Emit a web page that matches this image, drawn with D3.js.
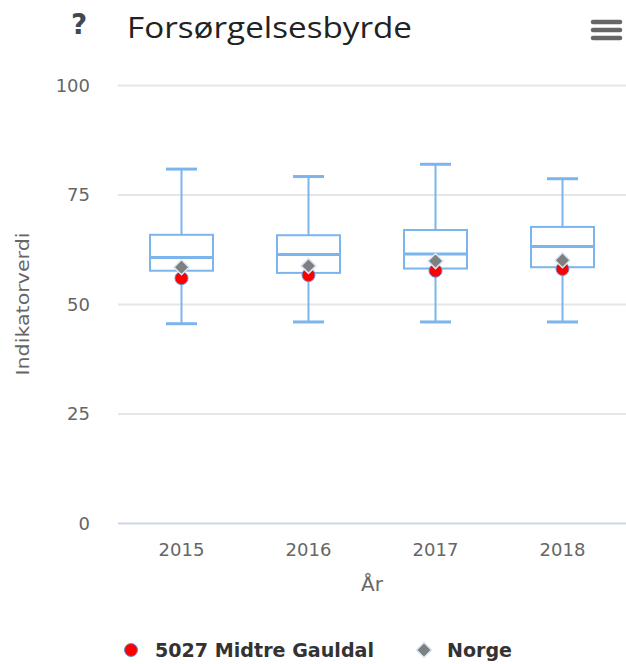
<!DOCTYPE html>
<html>
<head>
<meta charset="utf-8">
<script src="https://cdn.jsdelivr.net/npm/d3@7"></script>
<style>
  html, body { margin: 0; padding: 0; background: #fff; }
  svg { display: block; font-family: "DejaVu Sans", sans-serif; }
</style>
</head>
<body>
<svg id="chart" width="626" height="664"></svg>
<script>
// Years on the x axis
const years = ["2015", "2016", "2017", "2018"];
// Box plot five-number summaries per year
const lowValues    = [45.5, 45.9, 45.9, 45.9];
const q1Values     = [57.6, 57.1, 58.1, 58.4];
const medianValues = [60.6, 61.3, 61.4, 63.1];
const q3Values     = [65.8, 65.7, 66.9, 67.6];
const highValues   = [80.8, 79.1, 81.9, 78.6];
// Municipality and national values
const municipalityValues = [55.9, 56.6, 57.6, 58.0];
const norwayValues       = [58.4, 58.7, 59.8, 60.0];
// Axis ticks
const yTicks = [0, 25, 50, 75, 100];

const municipalityName = "5027 Midtre Gauldal";
const norwayName = "Norge";

const svg = d3.select("#chart");
const margin = { left: 118, right: 0, top: 85, bottom: 141 };
const W = 626, H = 664;

const x = d3.scaleBand().domain(years).range([margin.left, W - margin.right]).padding(0);
const y = d3.scaleLinear().domain([0, 100]).range([H - margin.bottom, margin.top]);

const boxColor = "#7cb5ec";

// Grid lines
svg.append("g").selectAll("line").data(yTicks).join("line")
  .attr("x1", margin.left).attr("x2", W - margin.right)
  .attr("y1", d => y(d) + 0.5).attr("y2", d => y(d) + 0.5)
  .attr("stroke", d => d === 0 ? "#ccd6eb" : "#e6e6e6")
  .attr("stroke-width", 2);

// Y axis labels
const yAxis = d3.axisLeft(y).tickValues(yTicks).tickSize(0).tickPadding(0);
const yg = svg.append("g").attr("transform", `translate(${margin.left - 28},0)`).call(yAxis);
yg.select(".domain").remove();
yg.selectAll("text").attr("font-size", 18).attr("fill", "#666").attr("dy", "0.35em")
  .attr("font-family", "'DejaVu Sans', sans-serif");

// X axis labels
const xAxis = d3.axisBottom(x).tickSize(0).tickPadding(0);
const xg = svg.append("g").attr("transform", `translate(0,${y(0) + 20})`).call(xAxis);
xg.select(".domain").remove();
xg.selectAll("text").attr("font-size", 18).attr("fill", "#666")
  .attr("font-family", "'DejaVu Sans', sans-serif");

// Axis titles
svg.append("text").attr("x", x("2016") + x.bandwidth())
  .attr("y", 591).attr("text-anchor", "middle")
  .attr("font-size", 20).attr("fill", "#666").text("År");
svg.append("text")
  .attr("transform", `translate(29,${y(50)}) rotate(-90)`)
  .attr("text-anchor", "middle").attr("font-size", 18).attr("fill", "#666")
  .attr("textLength", 143).attr("lengthAdjust", "spacingAndGlyphs")
  .text("Indikatorverdi");

// Box plots
const boxes = years.map((yr, i) => ({
  yr, low: lowValues[i], q1: q1Values[i], med: medianValues[i], q3: q3Values[i], high: highValues[i]
}));
const boxW = 63, capW = 31;
const bg = svg.append("g").selectAll("g").data(boxes).join("g")
  .attr("transform", d => `translate(${x(d.yr) + x.bandwidth() / 2},0)`);
// stems
bg.append("line").attr("x1", 0).attr("x2", 0)
  .attr("y1", d => y(d.high)).attr("y2", d => y(d.q3))
  .attr("stroke", boxColor).attr("stroke-width", 2);
bg.append("line").attr("x1", 0).attr("x2", 0)
  .attr("y1", d => y(d.q1)).attr("y2", d => y(d.low))
  .attr("stroke", boxColor).attr("stroke-width", 2);
// caps
bg.append("line").attr("x1", -capW / 2).attr("x2", capW / 2)
  .attr("y1", d => y(d.high)).attr("y2", d => y(d.high))
  .attr("stroke", boxColor).attr("stroke-width", 3);
bg.append("line").attr("x1", -capW / 2).attr("x2", capW / 2)
  .attr("y1", d => y(d.low)).attr("y2", d => y(d.low))
  .attr("stroke", boxColor).attr("stroke-width", 3);
// box
bg.append("rect").attr("x", -boxW / 2).attr("width", boxW)
  .attr("y", d => y(d.q3)).attr("height", d => y(d.q1) - y(d.q3))
  .attr("fill", "#fff").attr("stroke", boxColor).attr("stroke-width", 2);
// median
bg.append("line").attr("x1", -boxW / 2).attr("x2", boxW / 2)
  .attr("y1", d => y(d.med)).attr("y2", d => y(d.med))
  .attr("stroke", boxColor).attr("stroke-width", 3);

// Municipality markers (circles)
svg.append("g").selectAll("circle").data(municipalityValues).join("circle")
  .attr("cx", (d, i) => x(years[i]) + x.bandwidth() / 2)
  .attr("cy", d => y(d)).attr("r", 6.5)
  .attr("fill", "#ff0000").attr("stroke", "#6a8fd8").attr("stroke-width", 1);

// Norway markers (diamonds)
const diamond = s => `M0,${-s}L${s},0L0,${s}L${-s},0Z`;
svg.append("g").selectAll("path").data(norwayValues).join("path")
  .attr("transform", (d, i) => `translate(${x(years[i]) + x.bandwidth() / 2},${y(d)})`)
  .attr("d", diamond(7.5))
  .attr("fill", "#7f7f7f").attr("stroke", "#d7e7f8").attr("stroke-width", 1.5);

// Title and icons
svg.append("text").attr("x", 71).attr("y", 34).attr("font-size", 28).attr("font-weight", "bold")
  .attr("fill", "#3d4a55").attr("font-family", "'DejaVu Sans', sans-serif").text("?");
svg.append("text").attr("x", 127).attr("y", 38).attr("font-size", 29).attr("fill", "#222")
  .attr("font-family", "'Open Sans', sans-serif")
  .attr("textLength", 285).attr("lengthAdjust", "spacingAndGlyphs")
  .text("Forsørgelsesbyrde");
svg.append("g").selectAll("line").data([0, 1, 2]).join("line")
  .attr("x1", 593).attr("x2", 620)
  .attr("y1", d => 22 + d * 8).attr("y2", d => 22 + d * 8)
  .attr("stroke", "#666").attr("stroke-width", 4.5).attr("stroke-linecap", "round");

// Legend
const lg = svg.append("g").attr("font-size", 19).attr("font-weight", "bold").attr("fill", "#333")
  .attr("font-family", "'DejaVu Sans', sans-serif");
lg.append("circle").attr("cx", 131).attr("cy", 650).attr("r", 6.5)
  .attr("fill", "#ff0000").attr("stroke", "#6a8fd8").attr("stroke-width", 1);
lg.append("text").attr("x", 155).attr("y", 657)
  .attr("textLength", 219).attr("lengthAdjust", "spacingAndGlyphs").text(municipalityName);
lg.append("path").attr("transform", "translate(424,650)").attr("d", diamond(7.5))
  .attr("fill", "#7f7f7f").attr("stroke", "#d7e7f8").attr("stroke-width", 1.5);
lg.append("text").attr("x", 447).attr("y", 657)
  .attr("textLength", 65).attr("lengthAdjust", "spacingAndGlyphs").text(norwayName);
</script>
</body>
</html>
